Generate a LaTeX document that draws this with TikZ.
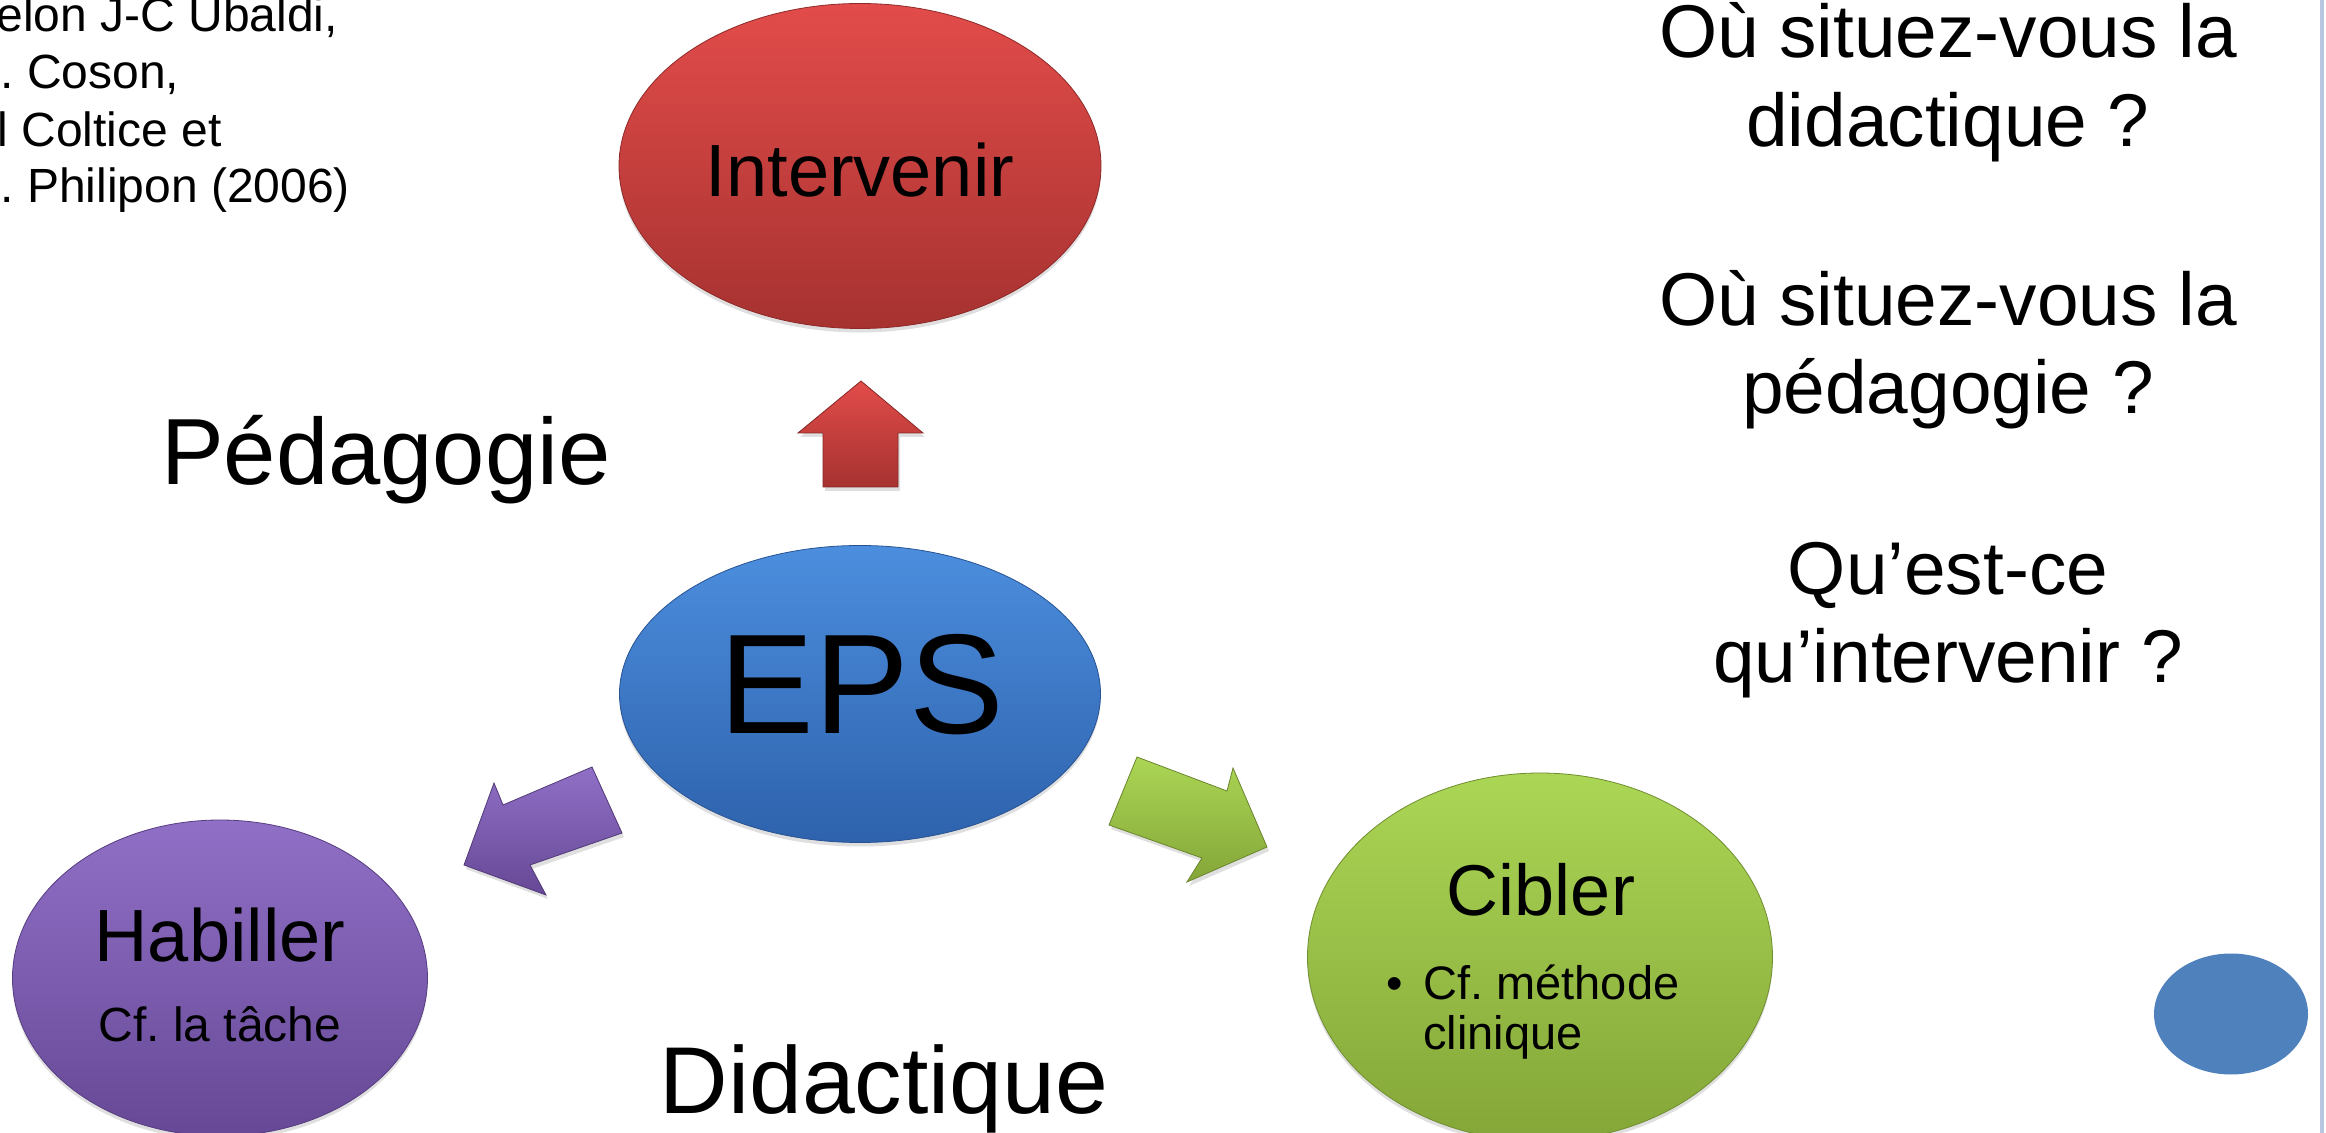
\documentclass[tikz,border=0pt]{standalone}
\usepackage{fontspec}
\setmainfont{Liberation Sans}
\usetikzlibrary{shapes.geometric,shadows}
\definecolor{redT}{HTML}{E24C4A}
\definecolor{redB}{HTML}{A63230}
\definecolor{blueT}{HTML}{4C8EDE}
\definecolor{blueB}{HTML}{2E62AC}
\definecolor{purT}{HTML}{9070C6}
\definecolor{purB}{HTML}{664896}
\definecolor{grnT}{HTML}{ABD655}
\definecolor{grnB}{HTML}{84A638}
\definecolor{smallblue}{HTML}{4F81BD}
\definecolor{edgeblue}{HTML}{B8C6E2}
\newcommand\fsz[2]{\fontsize{#1}{#2}\selectfont}
\frenchspacing
\begin{document}
\begin{tikzpicture}[x=0.5pt,y=-0.5pt,
  bubble/.style={ellipse, inner sep=0pt,
    drop shadow={opacity=0.25,shadow xshift=0pt,shadow yshift=-2pt}},
  txt/.style={inner sep=0pt, anchor=base},
  ltxt/.style={inner sep=0pt, anchor=base west},
  blockarrow/.style={line width=0.4pt, line join=miter,
    drop shadow={opacity=0.25,shadow xshift=1pt,shadow yshift=-2pt}}]
\useasboundingbox (0,0) rectangle (2326,1133);
\clip (0,0) rectangle (2326,1133);
\fill[white] (0,0) rectangle (2326,1133);

% right edge line
\draw[edgeblue, line width=2pt] (2322,-5) -- (2322,1140);

% top-left source text
\node[ltxt, font=\fsz{24}{28}] (src1) at (-4,32) {elon J-C Ubaldi,};
\node[ltxt, font=\fsz{24}{28}] (src2) at (0,89) {. Coson,};
\node[ltxt, font=\fsz{24}{28}] (src3) at (-3,147) {l Coltice et};
\node[ltxt, font=\fsz{24}{28}] (src4) at (0,203) {. Philipon (2006)};

% ellipses
\node[bubble, top color=redT, bottom color=redB, draw=redB!85!black,
  minimum width=241pt, minimum height=162.5pt] (inter) at (860,166) {};
\node[bubble, top color=blueT, bottom color=blueB, draw=blueB!85!black,
  minimum width=240.5pt, minimum height=148.5pt] (eps) at (860,694) {};
\node[bubble, top color=purT, bottom color=purB, draw=purB!85!black,
  minimum width=207.5pt, minimum height=158pt] (hab) at (220,978) {};
\node[bubble, top color=grnT, bottom color=grnB, draw=grnB!85!black,
  minimum width=232.5pt, minimum height=184pt] (cib) at (1540,957) {};
\node[ellipse, inner sep=0pt, fill=smallblue,
  minimum width=77pt, minimum height=60.5pt] (dot) at (2231,1014) {};

% texts in ellipses
\node[txt, font=\fsz{37}{44}] (tinter) at (860,197) {Intervenir};
\node[txt, font=\fsz{71}{80}] (teps) at (862,734) {EPS};
\node[txt, font=\fsz{37}{44}] (thab) at (220,961) {Habiller};
\node[txt, font=\fsz{24}{28}] (thab2) at (220,1041) {Cf. la tâche};
\node[txt, font=\fsz{36}{44}] (tcib) at (1541,915) {Cibler};
\node[txt, font=\fsz{23.5}{25}] (bul) at (1395,1000) {•};
\node[ltxt, font=\fsz{23.5}{25}] (tcib2) at (1423,1000) {Cf. méthode};
\node[ltxt, font=\fsz{23.5}{25}] (tcib3) at (1423,1049) {clinique};

% free labels
\node[txt, font=\fsz{47}{56}] (peda) at (386,485) {Pédagogie};
\node[txt, font=\fsz{47.5}{56}] (dida) at (884,1113) {Didactique};

% questions
\node[txt, font=\fsz{37.4}{44}] (q1) at (1948,58) {Où situez-vous la};
\node[txt, font=\fsz{37.4}{44}] (q2) at (1948,147) {didactique ?};
\node[txt, font=\fsz{37.4}{44}] (q3) at (1948,326) {Où situez-vous la};
\node[txt, font=\fsz{37.4}{44}] (q4) at (1948,414) {pédagogie ?};
\node[txt, font=\fsz{37.4}{44}] (q5) at (1948,595) {Qu’est-ce};
\node[txt, font=\fsz{37.4}{44}] (q6) at (1948,683) {qu’intervenir ?};

% block arrows
\shade[blockarrow, top color=redT, bottom color=redB, draw=redB!80!black]
  (823,487) -- (823,433) -- (798,433) -- (861,381) -- (923,433) -- (898,433) -- (898,487) -- cycle;
\shade[blockarrow, top color=purT, bottom color=purB, draw=purB!80!black]
  (464,865) -- (494,783) -- (503,805) -- (592,767) -- (622,833) -- (530,865) -- (546,895) -- cycle;
\shade[blockarrow, top color=grnT, bottom color=grnB, draw=grnB!80!black]
  (1137,757) -- (1227,791) -- (1233,768) -- (1267,847) -- (1187,882) -- (1202,858) -- (1109,825) -- cycle;
\end{tikzpicture}
\end{document}
